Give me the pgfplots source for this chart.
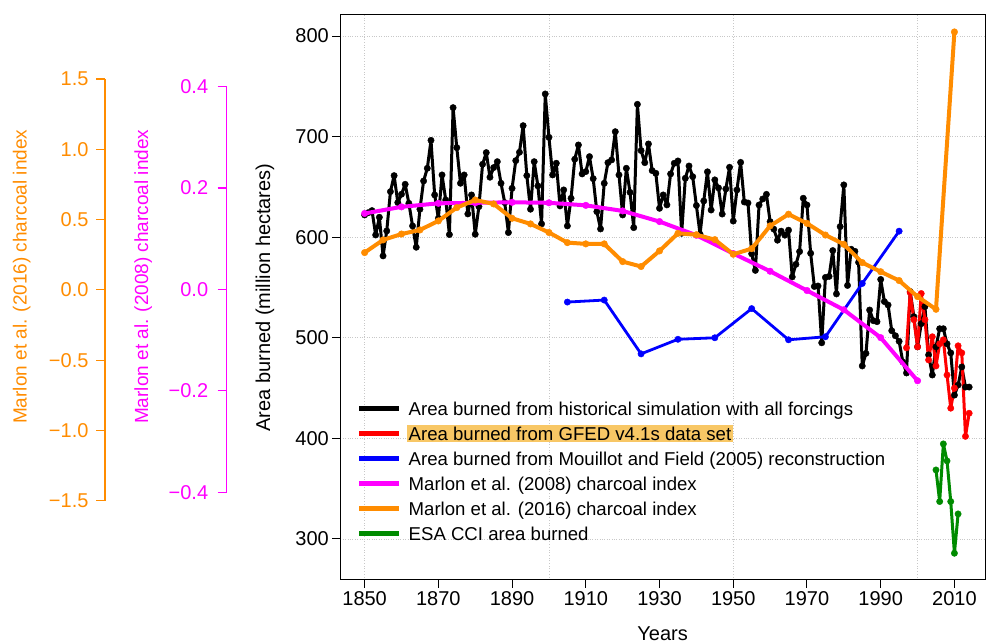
\documentclass[border=0pt]{standalone}
\usepackage{pgfplots}
\pgfplotsset{compat=1.18}
\usepackage{fontspec}
\setmainfont{Liberation Sans}
\definecolor{chorange}{HTML}{FF8C00}
\definecolor{chmagenta}{HTML}{FF00FF}
\definecolor{chgreen}{HTML}{008B00}
\definecolor{chred}{HTML}{FF0000}
\definecolor{chblue}{HTML}{0000FF}
\definecolor{hl}{HTML}{F8C765}
\definecolor{gridgray}{HTML}{C8C8C8}

% simulated area burned (million ha)
\pgfplotstableread{
year area
1850 622.1
1851 624.4
1852 626.4
1853 602.2
1854 619.8
1855 581.4
1856 606.2
1857 645.3
1858 661.2
1859 634.4
1860 642.7
1861 652.6
1862 633.7
1863 611.2
1864 590.0
1865 627.8
1866 655.9
1867 668.5
1868 696.3
1869 642.0
1870 618.8
1871 661.9
1872 637.0
1873 602.6
1874 728.8
1875 689.0
1876 653.6
1877 661.9
1878 623.1
1879 642.0
1880 602.9
1881 630.4
1882 672.5
1883 684.1
1884 659.6
1885 669.2
1886 675.1
1887 653.6
1888 634.4
1889 604.6
1890 648.6
1891 676.1
1892 684.4
1893 710.9
1894 661.2
1895 627.8
1896 675.1
1897 651.0
1898 613.2
1899 742.4
1900 699.3
1901 661.9
1902 673.5
1903 631.1
1904 647.0
1905 611.2
1906 638.7
1907 677.5
1908 691.7
1909 662.9
1910 665.2
1911 680.1
1912 658.2
1913 625.4
1914 608.2
1915 653.6
1916 674.1
1917 676.8
1918 704.9
1919 661.9
1920 622.1
1921 668.5
1922 644.6
1923 609.5
1924 732.1
1925 686.1
1926 674.1
1927 692.7
1928 666.2
1929 663.5
1930 628.7
1931 642.0
1932 632.1
1933 662.9
1934 673.5
1935 675.8
1936 603.9
1937 658.6
1938 670.8
1939 660.2
1940 631.5
1941 603.0
1942 636.0
1943 665.0
1944 627.0
1945 657.0
1946 649.0
1947 623.0
1948 648.0
1949 669.5
1950 616.0
1951 647.0
1952 674.4
1953 635.0
1954 634.0
1955 583.5
1956 567.0
1957 632.0
1958 638.0
1959 642.6
1960 615.5
1961 608.0
1962 597.0
1963 606.0
1964 602.0
1965 607.0
1966 560.5
1967 573.0
1968 585.7
1969 638.7
1970 632.0
1971 584.0
1972 551.0
1973 551.5
1974 495.0
1975 560.0
1976 561.0
1977 586.7
1978 543.6
1979 610.5
1980 652.0
1981 552.0
1982 588.0
1983 586.0
1984 575.0
1985 472.0
1986 484.5
1987 527.6
1988 517.0
1989 516.0
1990 558.0
1991 536.0
1992 532.6
1993 507.0
1994 502.0
1995 496.5
1996 476.0
1997 465.0
1998 546.0
1999 521.0
2000 491.0
2001 514.0
2002 531.0
2003 483.0
2004 463.0
2005 491.0
2006 509.0
2007 509.0
2008 494.0
2009 485.0
2010 443.0
2011 453.0
2012 471.0
2013 451.0
2014 451.0
}\simdata

\pgfplotstableread{
year area
1997 490
1998 545
1999 518
2000 491
2001 544
2002 518
2003 478
2004 501
2005 472
2006 494
2007 498
2008 463
2009 430
2010 450
2011 492
2012 485
2013 402
2014 425
}\gfed

\pgfplotstableread{
year area
1905 535.5
1915 537.5
1925 484.0
1935 498.5
1945 500.0
1955 529.0
1965 498.0
1975 501.0
1985 554.0
1995 606.0
}\mouillot

\pgfplotstableread{
year area
2005 368.6
2006 337.2
2007 394.5
2008 377.6
2009 337.2
2010 285.8
2011 324.9
}\esacci

% charcoal indices (own units)
\pgfplotstableread{
year idx
1850 0.150
1860 0.163
1870 0.170
1880 0.171
1890 0.172
1900 0.171
1910 0.166
1920 0.155
1930 0.134
1940 0.107
1950 0.071
1960 0.036
1970 -0.002
1980 -0.040
1990 -0.095
2000 -0.180
}\marlonA

\pgfplotstableread{
year idx
1850 0.266
1855 0.356
1860 0.398
1865 0.427
1870 0.491
1875 0.586
1880 0.640
1885 0.612
1890 0.510
1895 0.470
1900 0.409
1905 0.337
1910 0.328
1915 0.328
1920 0.202
1925 0.167
1930 0.278
1935 0.403
1940 0.393
1945 0.358
1950 0.254
1955 0.294
1960 0.456
1965 0.539
1970 0.474
1975 0.391
1980 0.325
1985 0.195
1990 0.130
1995 0.067
2000 -0.047
2005 -0.137
2010 1.835
}\marlonB

\begin{document}
\begin{tikzpicture}
\path[use as bounding box] (0pt,0pt) rectangle (987pt,644pt);

% main axis
\begin{axis}[
    at={(340.3pt,64pt)}, anchor=south west,
    scale only axis, width=644.7pt, height=565pt,
    xmin=1843.4, xmax=2018.3, ymin=259.2, ymax=820.9,
    xtick={1850,1870,...,2010}, ytick={300,400,...,800},
    minor xtick={1850,1900,1950,2000},
    xminorgrids=true, ymajorgrids=true,
    grid style={dotted, gridgray, line width=0.7pt},
    minor grid style={dotted, gridgray, line width=0.7pt},
    minor tick length=0pt, major tick length=8pt,
    tick align=outside, tick pos=left,
    axis line style={line width=1pt},
    tick style={black, line width=1pt},
    /pgf/number format/1000 sep={},
    /pgf/number format/assume math mode=true,
    tick label style={font=\fontsize{20}{24}\selectfont},
    xlabel={Years}, ylabel={Area burned (million hectares)},
    label style={font=\fontsize{20}{24}\selectfont},
    xlabel style={at={(axis description cs:0.5,-0.095)}, anchor=center},
    ylabel style={at={(axis description cs:-0.117,0.5)}, anchor=center},
    every axis plot/.append style={line join=round},
    legend image code/.code={\draw[#1, mark=none, line width=4.5pt] (0pt,0pt) -- (40pt,0pt);},
    legend cell align=left,
    legend style={at={(0.0259,0.3211)}, anchor=north west, draw=none, fill=none,
        font=\fontsize{18.6}{22}\selectfont, inner sep=0pt, row sep=5.6pt, column sep=7pt,
        nodes={inner sep=0pt, text height=16.4pt, text depth=3pt}},
]
\addplot[black, line width=3pt, mark=*, mark size=3.2pt, mark options={line width=0.4pt}] table[x=year, y=area] {\simdata};
\addlegendentry{Area burned from historical simulation with all forcings}
\addplot[chred, line width=3pt, mark=*, mark size=3.2pt, mark options={line width=0.4pt}] table[x=year, y=area] {\gfed};
\addlegendentry{\setlength{\fboxsep}{1.5pt}\hspace{-1.5pt}\colorbox{hl}{Area burned from GFED v4.1s data set}}
\addplot[chblue, line width=2.8pt, mark=*, mark size=3.2pt, mark options={line width=0.4pt}] table[x=year, y=area] {\mouillot};
\addlegendentry{Area burned from Mouillot and Field (2005) reconstruction}
\addlegendimage{chmagenta, line width=4pt}
\addlegendentry{Marlon et al. (2008) charcoal index}
\addlegendimage{chorange, line width=4pt}
\addlegendentry{Marlon et al. (2016) charcoal index}
\addplot[chgreen, line width=3pt, mark=*, mark size=3.2pt, mark options={line width=0.4pt}] table[x=year, y=area] {\esacci};
\addlegendentry{ESA CCI area burned}
\end{axis}

% Marlon et al. (2008) on its own scale
\begin{axis}[
    at={(340.3pt,64pt)}, anchor=south west,
    scale only axis, width=644.7pt, height=565pt,
    xmin=1843.4, xmax=2018.3, ymin=-0.5730, ymax=0.5415,
    hide axis,
]
\addplot[chmagenta, line width=4pt, line join=round, mark=*, mark size=3.3pt, mark options={line width=0.4pt}] table[x=year, y=idx] {\marlonA};
\end{axis}

% Marlon et al. (2016) on its own scale
\begin{axis}[
    at={(340.3pt,64pt)}, anchor=south west,
    scale only axis, width=644.7pt, height=565pt,
    xmin=1843.4, xmax=2018.3, ymin=-2.0622, ymax=1.9557,
    hide axis,
]
\addplot[chorange, line width=4pt, line join=round, mark=*, mark size=3.3pt, mark options={line width=0.4pt}] table[x=year, y=idx] {\marlonB};
\end{axis}

% left scale for Marlon et al. (2016)
\begin{axis}[
    at={(105pt,143.3pt)}, anchor=south west,
    scale only axis, width=20pt, height=421.7pt,
    xmin=0, xmax=1, ymin=-1.5, ymax=1.5,
    hide x axis, axis y line*=left,
    axis line style={chorange, line width=1.2pt},
    ytick={-1.5,-1,-0.5,0,0.5,1,1.5},
    yticklabels={−1.5,−1.0,−0.5,0.0,0.5,1.0,1.5},
    tick align=outside, major tick length=9pt,
    tick style={chorange, line width=1.2pt},
    yticklabel style={text=chorange, font=\fontsize{20}{24}\selectfont, xshift=-4pt},
]
\end{axis}

% left scale for Marlon et al. (2008)
\begin{axis}[
    at={(226.7pt,151.7pt)}, anchor=south west,
    scale only axis, width=20pt, height=405.6pt,
    xmin=0, xmax=1, ymin=-0.4, ymax=0.4,
    hide x axis, axis y line*=left,
    axis line style={chmagenta, line width=1.2pt},
    ytick={-0.4,-0.2,0,0.2,0.4},
    yticklabels={−0.4,−0.2,0.0,0.2,0.4},
    tick align=outside, major tick length=9pt,
    tick style={chmagenta, line width=1.2pt},
    yticklabel style={text=chmagenta, font=\fontsize{20}{24}\selectfont, xshift=-6pt},
]
\end{axis}

\node[rotate=90, text=chorange, font=\fontsize{19}{23}\selectfont] at (21.7pt,367.3pt) {Marlon et al. (2016) charcoal index};
\node[rotate=90, text=chmagenta, font=\fontsize{19}{23}\selectfont] at (143.3pt,367.3pt) {Marlon et al. (2008) charcoal index};
\end{tikzpicture}
\end{document}
